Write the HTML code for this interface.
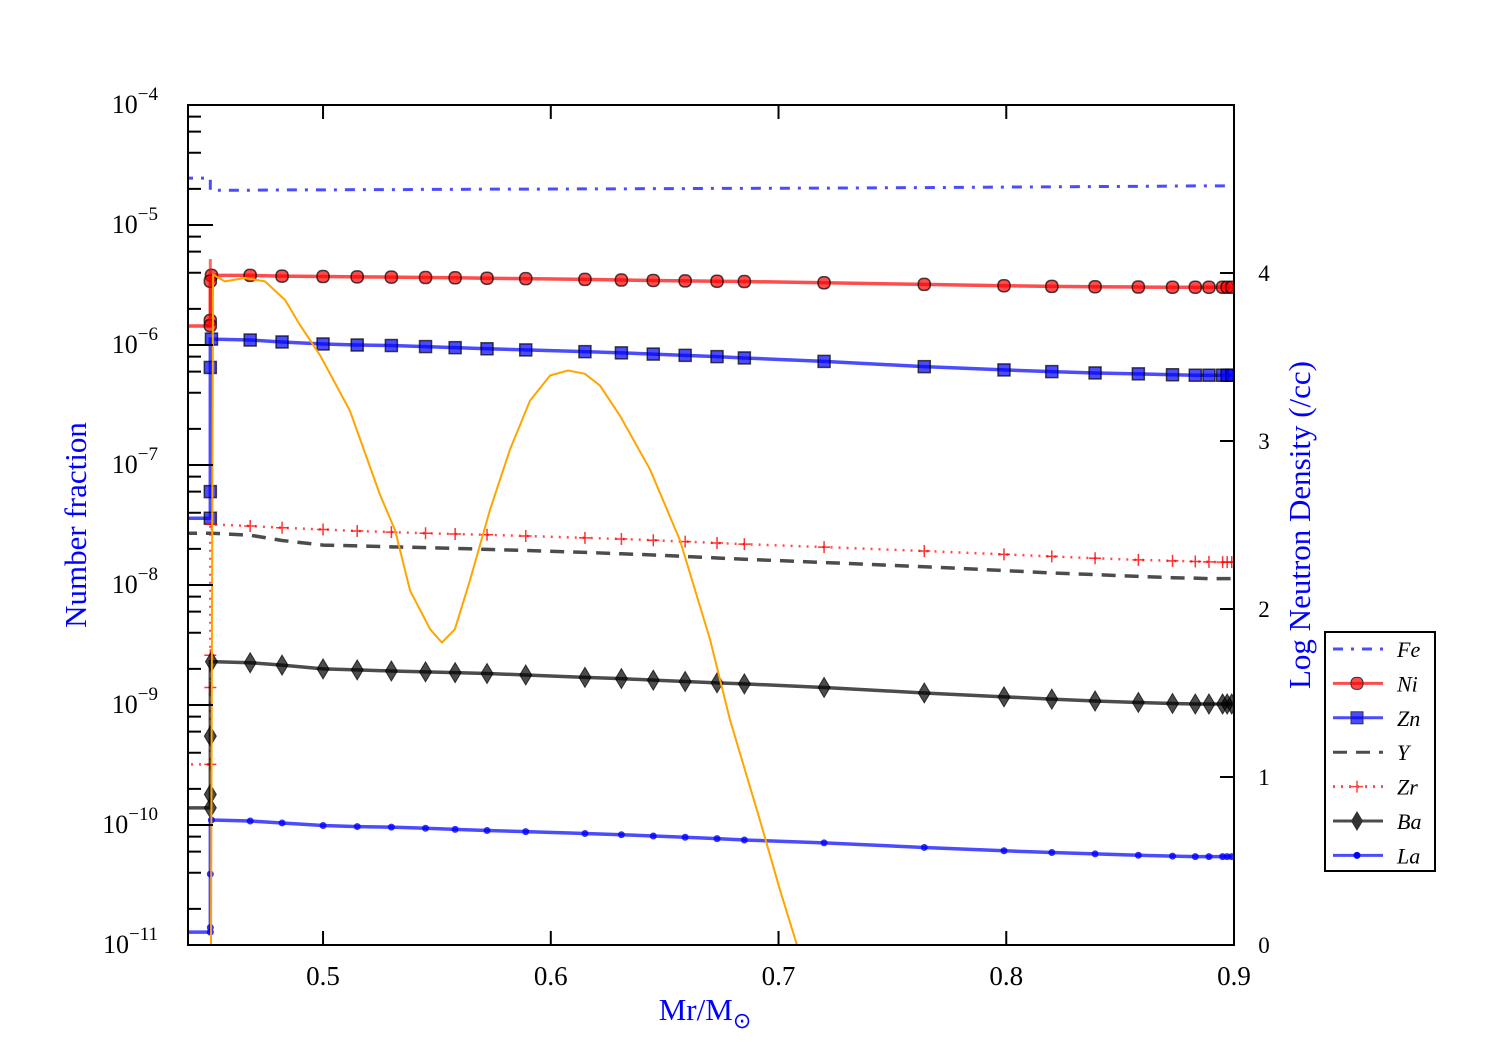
<!DOCTYPE html>
<html><head><meta charset="utf-8"><style>
body{margin:0;background:#fff}
svg text{font-family:"Liberation Serif",serif}
</style></head><body>
<svg id="c" width="1500" height="1050" xmlns="http://www.w3.org/2000/svg"></svg>
<script>
const xs=[0.451,0.468,0.482,0.500,0.515,0.530,0.545,0.558,0.572,0.589,0.615,0.631,0.645,0.659,0.673,0.685,0.720,0.764,0.799,0.820,0.839,0.858,0.873,0.883,0.889,0.895,0.897,0.899];
const feStart=2.46e-5, niStart=1.44e-6, znStart=3.6e-8, zrStart=3.2e-10, baStart=1.39e-10, laStart=1.28e-11;
const feVals=[1.95e-5,1.95e-5,1.96e-5,1.96e-5,1.97e-5,1.97e-5,1.98e-5,1.98e-5,1.99e-5,1.99e-5,2.0e-5,2.0e-5,2.01e-5,2.01e-5,2.02e-5,2.02e-5,2.03e-5,2.05e-5,2.07e-5,2.08e-5,2.09e-5,2.1e-5,2.11e-5,2.12e-5,2.12e-5,2.12e-5,2.12e-5,2.12e-5];
const niVals=[3.8e-6,3.8e-6,3.75e-6,3.72e-6,3.7e-6,3.68e-6,3.65e-6,3.63e-6,3.6e-6,3.57e-6,3.52e-6,3.48e-6,3.45e-6,3.42e-6,3.4e-6,3.38e-6,3.3e-6,3.2e-6,3.12e-6,3.08e-6,3.06e-6,3.04e-6,3.03e-6,3.03e-6,3.03e-6,3.03e-6,3.03e-6,3.03e-6];
const znVals=[1.12e-6,1.1e-6,1.06e-6,1.02e-6,1.0e-6,0.99e-6,0.97e-6,0.95e-6,0.93e-6,0.91e-6,0.88e-6,0.86e-6,0.84e-6,0.82e-6,0.8e-6,0.78e-6,0.73e-6,0.66e-6,0.62e-6,0.6e-6,0.585e-6,0.575e-6,0.565e-6,0.56e-6,0.56e-6,0.56e-6,0.56e-6,0.56e-6];
const yVals=[2.7e-8,2.6e-8,2.35e-8,2.15e-8,2.12e-8,2.08e-8,2.05e-8,2.02e-8,1.98e-8,1.94e-8,1.87e-8,1.82e-8,1.78e-8,1.73e-8,1.68e-8,1.64e-8,1.54e-8,1.42e-8,1.32e-8,1.26e-8,1.22e-8,1.18e-8,1.15e-8,1.14e-8,1.13e-8,1.13e-8,1.13e-8,1.13e-8];
const zrVals=[3.2e-8,3.1e-8,3.0e-8,2.9e-8,2.82e-8,2.76e-8,2.7e-8,2.66e-8,2.62e-8,2.56e-8,2.47e-8,2.42e-8,2.36e-8,2.3e-8,2.24e-8,2.19e-8,2.07e-8,1.92e-8,1.8e-8,1.73e-8,1.67e-8,1.62e-8,1.59e-8,1.57e-8,1.56e-8,1.55e-8,1.55e-8,1.55e-8];
const baVals=[2.3e-9,2.25e-9,2.15e-9,2.0e-9,1.96e-9,1.92e-9,1.89e-9,1.86e-9,1.83e-9,1.78e-9,1.7e-9,1.66e-9,1.61e-9,1.57e-9,1.53e-9,1.5e-9,1.4e-9,1.26e-9,1.17e-9,1.12e-9,1.08e-9,1.05e-9,1.03e-9,1.02e-9,1.02e-9,1.02e-9,1.02e-9,1.02e-9];
const laVals=[1.1e-10,1.08e-10,1.04e-10,0.99e-10,0.97e-10,0.96e-10,0.94e-10,0.92e-10,0.9e-10,0.88e-10,0.85e-10,0.83e-10,0.81e-10,0.79e-10,0.77e-10,0.75e-10,0.71e-10,0.65e-10,0.61e-10,0.59e-10,0.575e-10,0.56e-10,0.55e-10,0.545e-10,0.545e-10,0.545e-10,0.545e-10,0.545e-10];
const niSpike=[3.4e-6,1.6e-6,1.45e-6];
const znSpike=[6.5e-7,6e-8,3.6e-8];
const zrSpike=[2.6e-9,1.4e-9,3.2e-10];
const baSpike=[5.5e-10,1.8e-10,1.39e-10];
const laSpike=[3.9e-11,1.4e-11,1.28e-11];
const nX=[0.4508,0.4517,0.4569,0.4657,0.4745,0.4833,0.4899,0.4987,0.5118,0.5250,0.5316,0.5382,0.5470,0.5522,0.5579,0.5645,0.5733,0.5821,0.5909,0.5997,0.6076,0.6150,0.6216,0.6304,0.6436,0.6567,0.6699,0.6787,0.6919,0.7006,0.7081];
const nY=[0.0,3.99,3.95,3.97,3.95,3.84,3.69,3.51,3.18,2.68,2.47,2.11,1.88,1.80,1.88,2.17,2.59,2.95,3.24,3.39,3.42,3.40,3.33,3.15,2.83,2.41,1.82,1.34,0.74,0.33,0.0];
const xTicks=[0.5,0.6,0.7,0.8,0.9];
const yExp=[-4,-5,-6,-7,-8,-9,-10,-11];
const rTicks=[0,1,2,3,4];

const L=188,R=1234,T=105,B=945,XMIN=0.4407,XMAX=0.9;
const X=v=>L+(v-XMIN)/(XMAX-XMIN)*(R-L);
const Y=v=>T+(-4-Math.log10(v))*120;
const YR=v=>B-v*168;
const svg=document.getElementById('c');
const NS='http://www.w3.org/2000/svg';
function mk(tag,attrs,parent){const e=document.createElementNS(NS,tag);for(const k in attrs)e.setAttribute(k,attrs[k]);(parent||svg).appendChild(e);return e;}
const clip=mk('clipPath',{id:'pc'});mk('rect',{x:L,y:T,width:R-L,height:B-T},clip);
const g=mk('g',{'clip-path':'url(#pc)'});



function series(name,start,vals,spike,color,dash,marker,width){
  let d=`M${L-5},${Y(start)} L${X(0.4505)},${Y(start)} L${X(0.4505)},${Y(vals[0])}`;
  xs.forEach((x,i)=>d+=` L${X(x)},${Y(vals[i])}`);
  const p=mk('path',{d,fill:'none',stroke:color,'stroke-width':width||3.5,'stroke-dasharray':dash||'','stroke-opacity':0.7},g);
  
  
  if(!marker)return;
  const pts=xs.map((x,i)=>[X(x),Y(vals[i])]).concat((spike||[]).map(v=>[X(0.4505),Y(v)]));
  pts.forEach(([px,py])=>{
    let m;
    if(marker==='o')m=mk('rect',{x:px-6,y:py-6,width:12,height:12,rx:5,fill:'rgba(255,0,0,0.7)',stroke:'rgba(0,0,0,0.7)','stroke-width':1.5},g);
    else if(marker==='s')m=mk('rect',{x:px-6,y:py-6,width:12,height:12,fill:'rgba(0,0,255,0.7)',stroke:'rgba(0,0,0,0.7)','stroke-width':1.5},g);
    else if(marker==='d')m=mk('path',{d:`M${px},${py-10} L${px+6},${py} L${px},${py+10} L${px-6},${py}Z`,fill:'rgba(0,0,0,0.7)',stroke:'rgba(0,0,0,0.7)'},g);
    else if(marker==='.')m=mk('circle',{cx:px,cy:py,r:3.5,fill:'rgba(0,0,255,0.8)'},g);
    else if(marker==='+')m=mk('path',{d:`M${px-6},${py} H${px+6} M${px},${py-6} V${py+6}`,stroke:'rgba(255,0,0,0.8)','stroke-width':1.5},g);
    
    
  });
}
series('fe',feStart,feVals,null,'#00f','10 8 3 8',null,3);
series('ni',niStart,niVals,niSpike,'#f00','',  'o');
mk('path',{d:`M${X(0.4505)},${Y(5.2e-6)} V${Y(1.4e-6)}`,stroke:'rgba(255,0,0,0.6)','stroke-width':3},g);
series('zn',znStart,znVals,znSpike,'#00f','','s');
series('y',2.7e-8,yVals,null,'#000','14 9',null,3.5);
series('zr',zrStart,zrVals,zrSpike,'#f00','2 6','+',2.5);
series('ba',baStart,baVals,baSpike,'#000','','d');
series('la',laStart,laVals,laSpike,'#00f','','.');
let nd='';nX.forEach((x,i)=>nd+=(i?' L':'M')+X(x)+','+YR(nY[i]));
const np=mk('path',{d:nd,fill:'none',stroke:'orange','stroke-width':2,'stroke-linejoin':'round'},g);



const fr=mk('rect',{x:L,y:T,width:R-L,height:B-T,fill:'none',stroke:'#000','stroke-width':2});


xTicks.forEach(v=>{
  mk('line',{x1:X(v),x2:X(v),y1:B,y2:B-14,stroke:'#000','stroke-width':2});
  mk('line',{x1:X(v),x2:X(v),y1:T,y2:T+14,stroke:'#000','stroke-width':2});
  const t=mk('text',{x:X(v),y:B+40,'text-anchor':'middle','font-size':27});t.textContent=v.toFixed(1);
  
  
});
yExp.forEach(e=>{
  const py=Y(Math.pow(10,e));
  mk('line',{x1:L,x2:L+25,y1:py,y2:py,stroke:'#000','stroke-width':2});
  if(e>-11)for(let k=2;k<10;k+=2){const q=Y(k*Math.pow(10,e-1));mk('line',{x1:L,x2:L+13,y1:q,y2:q,stroke:'#000','stroke-width':2});}
  const t=mk('text',{x:L-30,y:py+8,'text-anchor':'end','font-size':26});
  t.innerHTML='10<tspan dy="-13" font-size="19">−'+(-e)+'</tspan>';
  
  
});
rTicks.forEach(v=>{
  mk('line',{x1:R,x2:R-14,y1:YR(v),y2:YR(v),stroke:'#000','stroke-width':2});
  const t=mk('text',{x:R+30,y:YR(v)+8,'text-anchor':'middle','font-size':23});t.textContent=v;
  
  
});
let t=mk('text',{x:86,y:525,'text-anchor':'middle','font-size':31,fill:'#00f',transform:'rotate(-90 86 525)'});t.textContent='Number fraction';

t=mk('text',{x:1310,y:525,'text-anchor':'middle','font-size':31,fill:'#00f',transform:'rotate(-90 1310 525)'});t.textContent='Log Neutron Density (/cc)';

t=mk('text',{x:705,y:1020,'text-anchor':'middle','font-size':31,fill:'#00f'});t.innerHTML='Mr/M<tspan dy="8" font-size="22">⊙</tspan>';


const lg=mk('g',{});


mk('rect',{x:1325,y:632,width:110,height:239,fill:'#fff',stroke:'#000','stroke-width':2},lg);
const leg=[['Fe','#00f','10 8 3 8',null],['Ni','#f00','','o'],['Zn','#00f','','s'],['Y','#000','14 9',null],['Zr','#f00','2 6','+'],['Ba','#000','','d'],['La','#00f','','.']];
leg.forEach(([n,c,d,m],i)=>{
  const y=649+i*34.4;
  mk('line',{x1:1333,x2:1383,y1:y,y2:y,stroke:c,'stroke-width':3,'stroke-dasharray':d,'stroke-opacity':0.7},lg);
  const px=1357;
  if(m==='o')mk('rect',{x:px-6,y:y-6,width:12,height:12,rx:5,fill:'rgba(255,0,0,0.7)',stroke:'#333'},lg);
  if(m==='s')mk('rect',{x:px-6,y:y-6,width:12,height:12,fill:'rgba(0,0,255,0.7)',stroke:'#333'},lg);
  if(m==='d')mk('path',{d:`M${px},${y-10} L${px+6},${y} L${px},${y+10} L${px-6},${y}Z`,fill:'#333'},lg);
  if(m==='.')mk('circle',{cx:px,cy:y,r:3.5,fill:'#00f'},lg);
  if(m==='+')mk('path',{d:`M${px-6},${y} H${px+6} M${px},${y-6} V${y+6}`,stroke:'#f44','stroke-width':1.5},lg);
  const tt=mk('text',{x:1397,y:y+8,'font-size':22,'font-style':'italic'},lg);tt.textContent=n;
  
  
});
</script>
</body></html>
